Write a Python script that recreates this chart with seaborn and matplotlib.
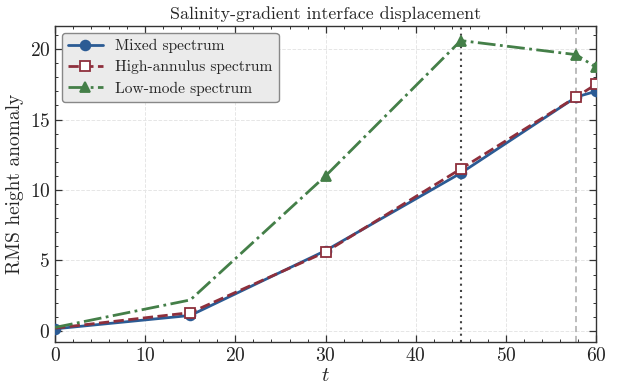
import matplotlib
matplotlib.use("Agg")
import matplotlib.pyplot as plt
import seaborn as sns
import pandas as pd

t = [0, 15, 30, 45, 57.8, 60]
mixed = [0.15, 1.1, 5.7, 11.2, 16.6, 17.0]
high_annulus = [0.2, 1.3, 5.6, 11.5, 16.6, 17.5]
low_mode = [0.25, 2.2, 11.0, 20.6, 19.6, 18.7]
names = ["Mixed spectrum", "High-annulus spectrum", "Low-mode spectrum"]

sns.set_theme(style="ticks")
plt.rcParams["font.family"] = ["cmr10", "DejaVu Serif"]
plt.rcParams["mathtext.fontset"] = "cm"
plt.rcParams["axes.formatter.use_mathtext"] = True
plt.rcParams["axes.unicode_minus"] = False

df = pd.DataFrame({"t": t * 3,
                   "v": mixed + high_annulus + low_mode,
                   "s": [names[0]] * 6 + [names[1]] * 6 + [names[2]] * 6})

fig = plt.figure(figsize=(6.19, 3.89), dpi=100)
ax = fig.add_axes([0.089, 0.121, 0.874, 0.812])

colors = ["#2b5b94", "#8e2f3c", "#447f48"]
styles = [dict(ls="-", marker="o", mfc=colors[0], markevery=None),
          dict(ls="--", marker="s", mfc="white", markevery=[1, 2, 3, 4, 5]),
          dict(ls="-.", marker="^", mfc=colors[2], markevery=[2, 3, 4, 5])]

for i, n in enumerate(names):
    sub = df[df.s == n]
    st = styles[i]
    sns.lineplot(data=sub, x="t", y="v", ax=ax, color=colors[i], linewidth=2.0,
                 linestyle=st["ls"], marker=st["marker"], markersize=7,
                 markerfacecolor=st["mfc"], markeredgecolor=colors[i],
                 markeredgewidth=1.3, markevery=st["markevery"], label=n,
                 zorder=3 + i)

ax.axvline(45, color="#444444", linestyle=(0, (1, 2)), linewidth=1.5, zorder=2)
ax.axvline(57.8, color="#aaaaaa", linestyle=(0, (4, 2.5)), linewidth=1.1, zorder=2)

ax.set_xlim(0, 60)
ax.set_ylim(-0.78, 21.63)
ax.set_xticks([0, 10, 20, 30, 40, 50, 60])
ax.set_yticks([0, 5, 10, 15, 20])
ax.minorticks_on()
ax.tick_params(which="both", direction="in", top=True, right=True, labelsize=14, colors="#333333")
ax.tick_params(which="major", length=5, width=0.9, labelcolor="#222222")
ax.tick_params(which="minor", length=2.5, width=0.7)
ax.grid(True, which="major", color="#e6e6e6", linestyle="--", linewidth=0.7)
for s in ax.spines.values():
    s.set_color("#333333")
    s.set_linewidth(1.0)

ax.set_xlabel("$t$", fontsize=15, labelpad=2)
ax.set_ylabel("RMS height anomaly", fontsize=14, labelpad=4)
ax.set_title("Salinity-gradient interface displacement", fontsize=12.9, pad=5)

leg = ax.legend(loc="upper left", fontsize=11.2, frameon=True, fancybox=True,
                facecolor="#ebebeb", edgecolor="#888888", framealpha=1.0,
                handlelength=2.2, borderpad=0.4, labelspacing=0.45,
                borderaxespad=0, bbox_to_anchor=(0.013, 0.978))
leg.get_frame().set_linewidth(1.0)

fig.savefig("out.png", dpi=100)
